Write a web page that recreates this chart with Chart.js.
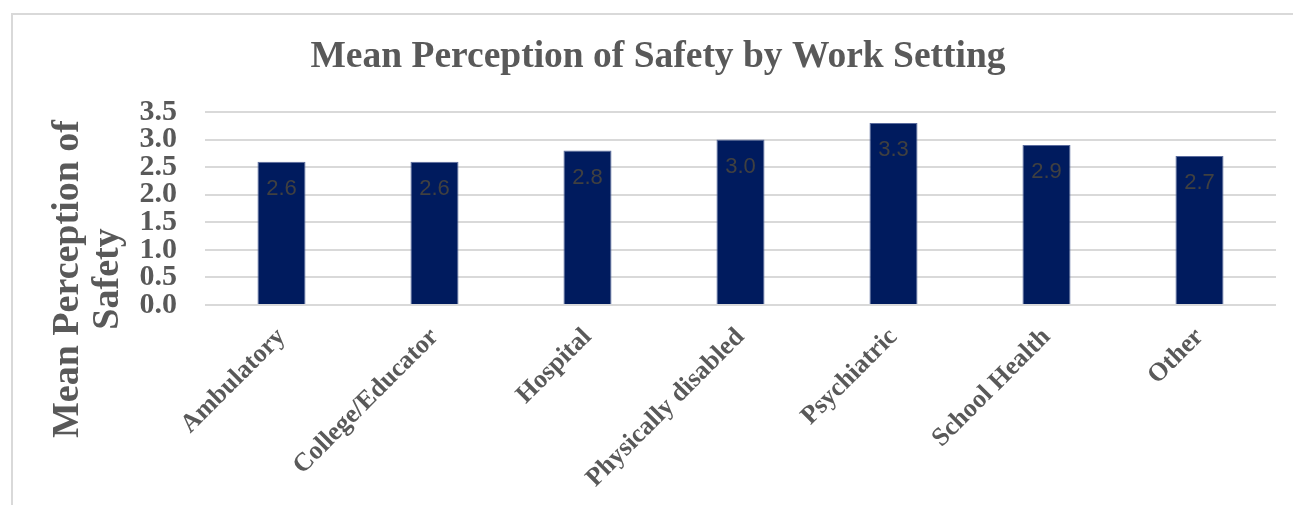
<!DOCTYPE html>
<html>
<head>
<meta charset="utf-8">
<script src="https://cdn.jsdelivr.net/npm/chart.js@4.4.1/dist/chart.umd.min.js"></script>
<style>
  html, body { margin: 0; padding: 0; background: #fff; overflow: hidden; }
  #frame {
    position: absolute; left: 11px; top: 13px; width: 1400px; height: 600px;
    border-top: 2px solid #d9d9d9; border-left: 2px solid #d9d9d9;
  }
  #wrap { position: absolute; left: 0; top: 0; width: 1293px; height: 505px; }
</style>
</head>
<body>
<div id="frame"></div>
<div id="wrap"><canvas id="chartCanvas" width="1293" height="505"></canvas></div>
<script>
const categories = ['Ambulatory', 'College/Educator', 'Hospital', 'Physically disabled', 'Psychiatric', 'School Health', 'Other'];
const meanSafety = [2.6, 2.6, 2.8, 3.0, 3.3, 2.9, 2.7];
const yMin = 0;
const yMax = 3.5;
const yStep = 0.5;
const titleText = 'Mean Perception of Safety by Work Setting';
const yTitleLines = ['Mean Perception of', 'Safety'];

const grey = '#595959';
const serif = '"Liberation Serif", "Times New Roman", serif';

// Werte-Beschriftung in den Balken
const barLabels = {
  id: 'barLabels',
  afterDatasetsDraw(chart) {
    const ctx = chart.ctx;
    const meta = chart.getDatasetMeta(0);
    ctx.save();
    ctx.font = '22px "Liberation Sans", Arial, sans-serif';
    ctx.fillStyle = '#404040';
    ctx.textAlign = 'center';
    ctx.textBaseline = 'middle';
    meta.data.forEach((bar, i) => {
      ctx.fillText(meanSafety[i].toFixed(1), bar.x, bar.y + 27);
    });
    ctx.restore();
  }
};

// Achsentitel links (zweizeilig, gedreht)
const yTitle = {
  id: 'yTitle',
  afterDraw(chart) {
    const ctx = chart.ctx;
    ctx.save();
    ctx.font = 'bold 38px ' + serif;
    ctx.fillStyle = grey;
    ctx.textAlign = 'center';
    ctx.textBaseline = 'alphabetic';
    ctx.translate(0, 279);
    ctx.rotate(-Math.PI / 2);
    ctx.fillText(yTitleLines[0], 0, 78);
    ctx.fillText(yTitleLines[1], 0, 118);
    ctx.restore();
  }
};

const ctx = document.getElementById('chartCanvas').getContext('2d');
new Chart(ctx, {
  type: 'bar',
  data: {
    labels: categories,
    datasets: [{
      label: 'Mean Perception of Safety',
      data: meanSafety,
      backgroundColor: '#001B5E',
      borderColor: '#5b6c9e',
      borderWidth: 1,
      categoryPercentage: 1.0,
      barPercentage: 0.314
    }]
  },
  options: {
    responsive: false,
    animation: false,
    layout: { padding: { left: 40, right: 17, top: 0, bottom: 0 } },
    plugins: {
      legend: { display: false },
      tooltip: { enabled: false },
      title: {
        display: true,
        text: titleText,
        color: grey,
        font: { family: serif, size: 37.5, weight: 'bold' },
        padding: { top: 35, bottom: 32 }
      }
    },
    scales: {
      x: {
        grid: { display: false },
        border: { display: false },
        ticks: {
          color: grey,
          font: { family: serif, size: 26, weight: 'bold' },
          minRotation: 45,
          maxRotation: 45,
          padding: 9,
          autoSkip: false
        },
        afterFit(scale) { scale.height = 200; }
      },
      y: {
        min: yMin,
        max: yMax,
        grid: { color: '#d9d9d9', lineWidth: 2, drawTicks: false },
        border: { display: false },
        ticks: {
          stepSize: yStep,
          autoSkip: false,
          color: grey,
          font: { family: serif, size: 30, weight: 'bold' },
          padding: 28,
          callback: v => Number(v).toFixed(1)
        },
        afterFit(scale) { scale.width = 165; }
      }
    }
  },
  plugins: [barLabels, yTitle]
});
</script>
</body>
</html>
